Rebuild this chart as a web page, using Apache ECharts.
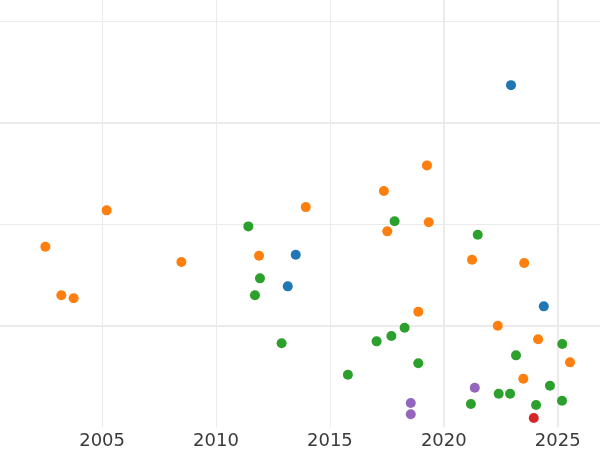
<!DOCTYPE html>
<html>
<head>
<meta charset="utf-8">
<script src="https://cdn.jsdelivr.net/npm/echarts@6/dist/echarts.min.js"></script>
<style>html,body{margin:0;padding:0;background:#fff}#chart{width:600px;height:450px}</style>
</head>
<body>
<div id="chart"></div>
<script>
// X tick values (years) and data values
const xTicks = [2000, 2005, 2010, 2015, 2020, 2025, 2030];

const blueX = [2022.95, 2013.50, 2013.15, 2024.39];
const blueY = [3.371, 1.700, 1.388, 1.191];

const orangeX = [2002.51, 2003.21, 2003.75, 2005.20, 2008.48, 2011.89, 2013.94, 2017.37, 2019.26, 2017.52, 2019.34, 2021.24, 2023.53, 2018.88, 2022.37, 2024.14, 2025.54, 2023.49];
const orangeY = [1.778, 1.300, 1.270, 2.137, 1.628, 1.690, 2.169, 2.327, 2.580, 1.930, 2.019, 1.650, 1.618, 1.138, 1.000, 0.866, 0.639, 0.478];

const greenX = [2011.42, 2011.93, 2011.71, 2012.88, 2017.84, 2021.49, 2018.28, 2017.70, 2017.05, 2018.88, 2015.79, 2025.20, 2023.17, 2024.66, 2022.41, 2022.91, 2021.19, 2024.05, 2025.19];
const greenY = [1.979, 1.467, 1.300, 0.827, 2.029, 1.897, 0.980, 0.899, 0.846, 0.630, 0.517, 0.820, 0.708, 0.409, 0.330, 0.330, 0.229, 0.219, 0.261];

const redX = [2023.95];
const redY = [0.091];

const purpleX = [2021.36, 2018.55, 2018.55];
const purpleY = [0.389, 0.238, 0.127];

function pairs(xs, ys) { return xs.map((x, i) => [x, ys[i]]); }

const chart = echarts.init(document.getElementById('chart'), null, {renderer: 'canvas'});
const gridColor = '#ebebeb';
const none = 'rgba(0,0,0,0)';

function sc(name, xs, ys, color) {
  return {
    name: name, type: 'scatter', xAxisIndex: 0, yAxisIndex: 0,
    data: pairs(xs, ys), symbolSize: 10,
    itemStyle: {color: color, opacity: 1},
    emphasis: {disabled: true}
  };
}

chart.setOption({
  animation: false,
  backgroundColor: '#ffffff',
  grid: {left: -11.8, right: -71.6, top: 0, bottom: 22.8, outerBoundsMode: 'none', containLabel: false},
  xAxis: [{
    type: 'value', min: xTicks[0], max: xTicks[xTicks.length - 1], interval: 5,
    position: 'bottom',
    axisLine: {show: false}, axisTick: {show: false},
    axisLabel: {
      show: true, showMinLabel: false, showMaxLabel: false,
      fontFamily: 'DejaVu Sans', fontSize: 18, color: '#3a3a3a', margin: 5,
      formatter: v => (v === xTicks[0] || v === xTicks[xTicks.length - 1]) ? '' : String(v)
    },
    splitLine: {show: true, showMinLine: false, showMaxLine: false, lineStyle: {color: gridColor, width: 1}}
  }, {
    type: 'value', min: xTicks[0], max: xTicks[xTicks.length - 1], interval: 5,
    position: 'top',
    axisLine: {show: false}, axisTick: {show: false}, axisLabel: {show: false},
    splitLine: {show: true, showMinLine: true, showMaxLine: false, lineStyle: {color: [none, none, none, none, gridColor, gridColor, none], width: 2}}
  }],
  yAxis: [{
    type: 'value', min: 0, max: 4.21, interval: 1,
    axisLine: {show: false}, axisTick: {show: false}, axisLabel: {show: false},
    splitLine: {show: true, showMinLine: false, showMaxLine: false, lineStyle: {color: gridColor, width: 1}}
  }, {
    type: 'value', min: 0, max: 4.21, interval: 1, position: 'right',
    axisLine: {show: false}, axisTick: {show: false}, axisLabel: {show: false},
    splitLine: {show: true, showMinLine: true, showMaxLine: false, lineStyle: {color: [none, gridColor], width: 2}}
  }],
  series: [
    sc('blue', blueX, blueY, '#1f77b4'),
    sc('orange', orangeX, orangeY, '#ff7f0e'),
    sc('green', greenX, greenY, '#2ca02c'),
    sc('red', redX, redY, '#d62728'),
    sc('purple', purpleX, purpleY, '#9467bd')
  ]
});
</script>
</body>
</html>
